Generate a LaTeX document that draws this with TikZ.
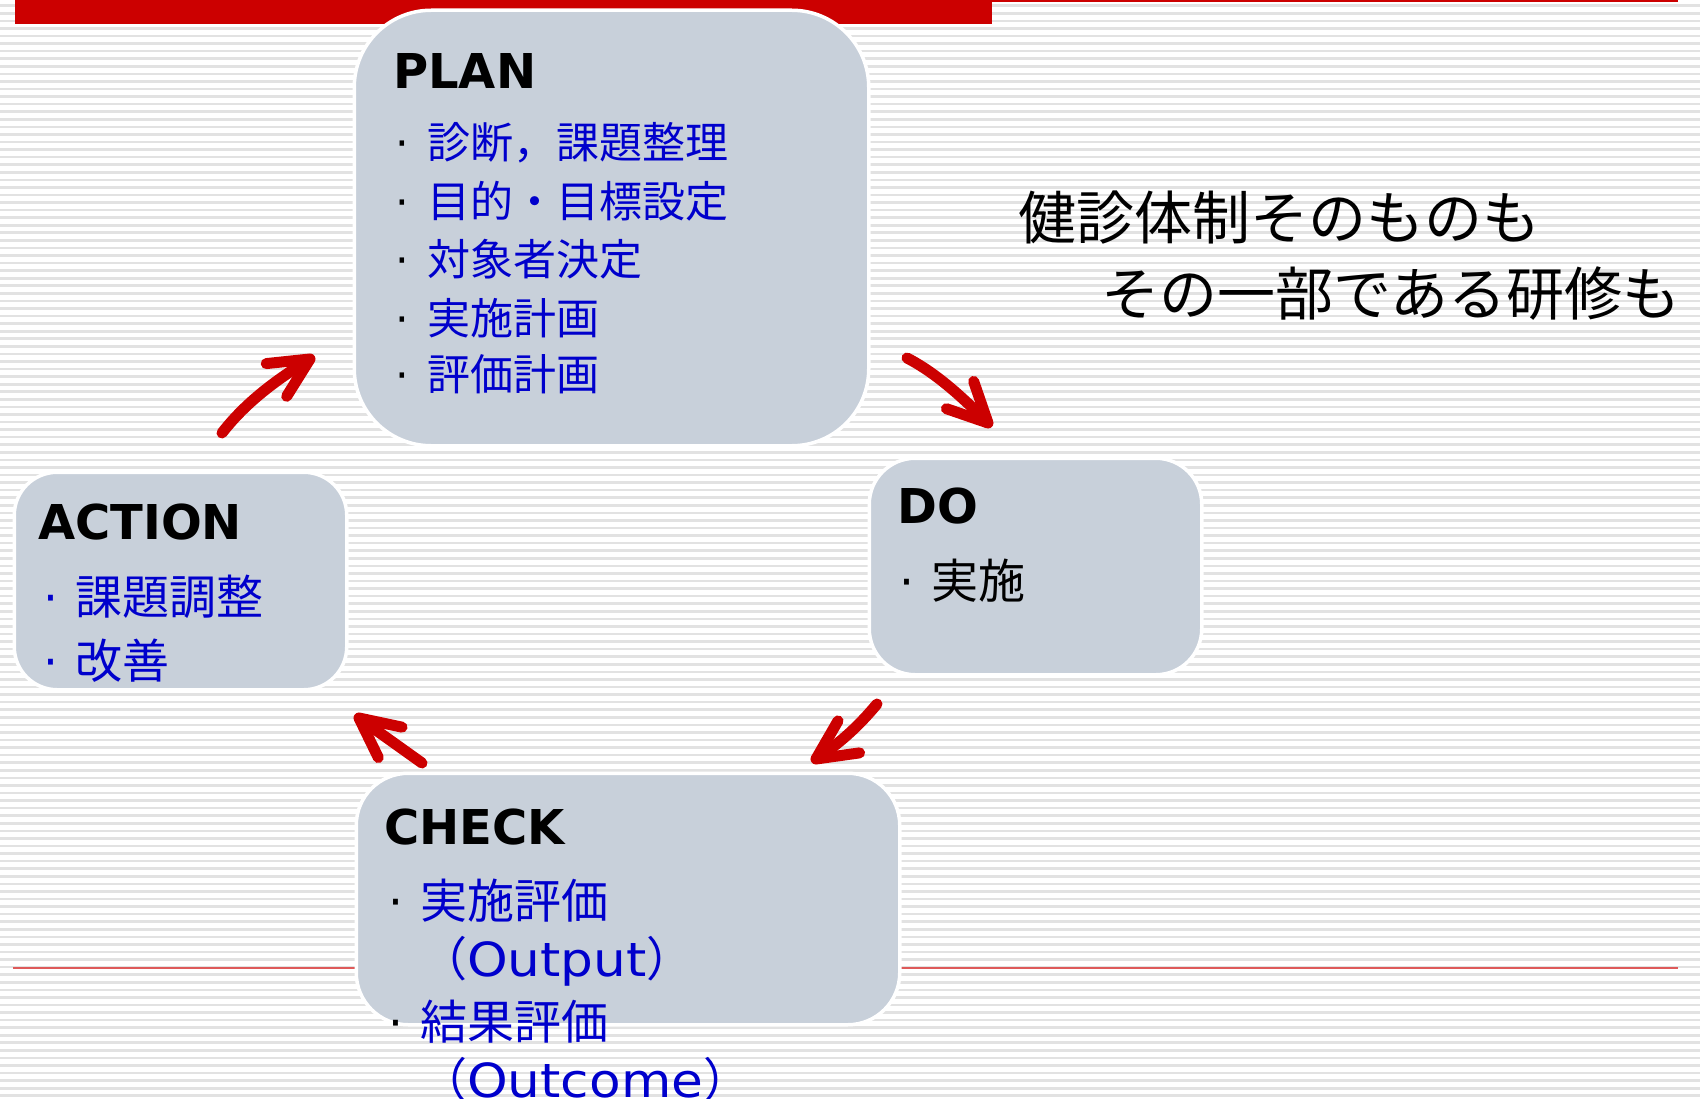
\documentclass[tikz,border=0pt]{standalone}
\usepackage{fontspec}
\setmainfont{DejaVu Sans}
\newfontfamily\cjk{Noto Sans CJK JP}
\newfontfamily\ttl{DejaVu Sans}
\newfontfamily\latwide[FakeStretch=1.1]{DejaVu Sans}
\newfontfamily\bulfont{DejaVu Sans}
\definecolor{boxfill}{RGB}{200,208,218}
\definecolor{arrowred}{RGB}{204,0,0}
\definecolor{itemblue}{RGB}{0,0,204}
\definecolor{stripe}{RGB}{226,226,226}
\definecolor{thinred}{RGB}{222,90,90}
\newcommand\bul[1][black]{\llap{\makebox[32pt][l]{\bulfont\textcolor{#1}{·}}}}
\begin{document}
\begin{tikzpicture}[x=1pt,y=-1pt,
  box/.style={draw=white, line width=3.5pt, fill=boxfill, inner sep=0pt, outer sep=0pt},
  title/.style={anchor=base west, inner sep=0pt, font=\ttl\bfseries\fontsize{48}{48}\selectfont},
  itemP/.style={anchor=base west, inner sep=0pt, text=itemblue, font=\cjk\fontsize{43}{43}\selectfont},
  item/.style={anchor=base west, inner sep=0pt, text=itemblue, font=\cjk\fontsize{47}{47}\selectfont},
  note/.style={anchor=base west, inner sep=0pt, text=black, font=\cjk\fontsize{58}{58}\selectfont},
  parrow/.style={draw=arrowred, line width=11pt, line cap=round, line join=round}]
\useasboundingbox (0,0) rectangle (1700,1099);
% background stripes
\fill[white] (0,0) rectangle (1700,1099);
\foreach \i in {0,...,145} {
  \fill[stripe] (0,{5.7+7.57*\i-1.3}) rectangle (1700,{5.7+7.57*\i+1.3});
}
% red bar and thin red lines
\fill[arrowred] (15,0) rectangle (992,24);
\fill[arrowred] (992,0) rectangle (1678,1.6);
\draw[thinred, line width=1.6pt] (13,968) -- (1678,968);
% boxes
\node[box, minimum width=514.5pt, minimum height=435.5pt, rounded corners=77pt] (plan) at (611.5,228) {};
\node[box, minimum width=332.5pt, minimum height=216.5pt, rounded corners=46pt] (do) at (1035.5,566.5) {};
\node[box, minimum width=332.5pt, minimum height=217.5pt, rounded corners=43pt] (action) at (180.5,581) {};
\node[box, minimum width=543.5pt, minimum height=251.5pt, rounded corners=52pt] (check) at (628,899) {};
% PLAN text
\node[title] (plant) at (393,89) {PLAN};
\node[itemP] (p1) at (427,159) {\bul 診断，課題整理};
\node[itemP] (p2) at (427,218) {\bul 目的・目標設定};
\node[itemP] (p3) at (427,275.5) {\bul 対象者決定};
\node[itemP] (p4) at (427,334.5) {\bul 実施計画};
\node[itemP] (p5) at (427,390) {\bul 評価計画};
% DO text
\node[title] (dot) at (897,523) {DO};
\node[item, text=black] (d1) at (931,598) {\bul 実施};
% ACTION text
\node[title] (actiont) at (38,539) {ACTION};
\node[item] (a1) at (75,614) {\bul[itemblue]課題調整};
\node[item] (a2) at (75,678) {\bul[itemblue]改善};
% CHECK text
\node[title] (checkt) at (384,844) {CHECK};
\node[item] (c1) at (420,918) {\bul 実施評価};
\node[item] (c2) at (420,976) {（{\latwide Output}）};
\node[item] (c3) at (420,1039) {\bul 結果評価};
\node[item] (c4) at (420,1097) {（{\latwide Outcome}）};
% note at right
\node[note] (n1) at (1018,240) {健診体制そのものも};
\node[note] (n2) at (1101,316) {その一部である研修も};
% arrows
\coordinate (pdS) at (907,358);
\coordinate (pdE) at (988,423);
\coordinate (dcS) at (877,704);
\coordinate (dcE) at (816,759);
\coordinate (caS) at (422,763);
\coordinate (caE) at (359,718);
\coordinate (apS) at (222,433);
\coordinate (apE) at (310,359);
\draw[parrow] (pdS) .. controls (938,374) and (964.7,399.7) .. (pdE);
\draw[parrow] (pdE) -- ++(251:44) (pdE) -- ++(199:44);
\draw[parrow] (dcS) .. controls (858.7,726) and (839.9,743.2) .. (dcE);
\draw[parrow] (dcE) -- ++(-60:44) (dcE) -- ++(-8:44);
\draw[parrow] (caS) -- (caE);
\draw[parrow] (caE) -- ++(12:44) (caE) -- ++(64:44);
\draw[parrow] (apS) .. controls (246,402) and (277.1,379.2) .. (apE);
\draw[parrow] (apE) -- ++(122:44) (apE) -- ++(174:44);
\end{tikzpicture}
\end{document}
